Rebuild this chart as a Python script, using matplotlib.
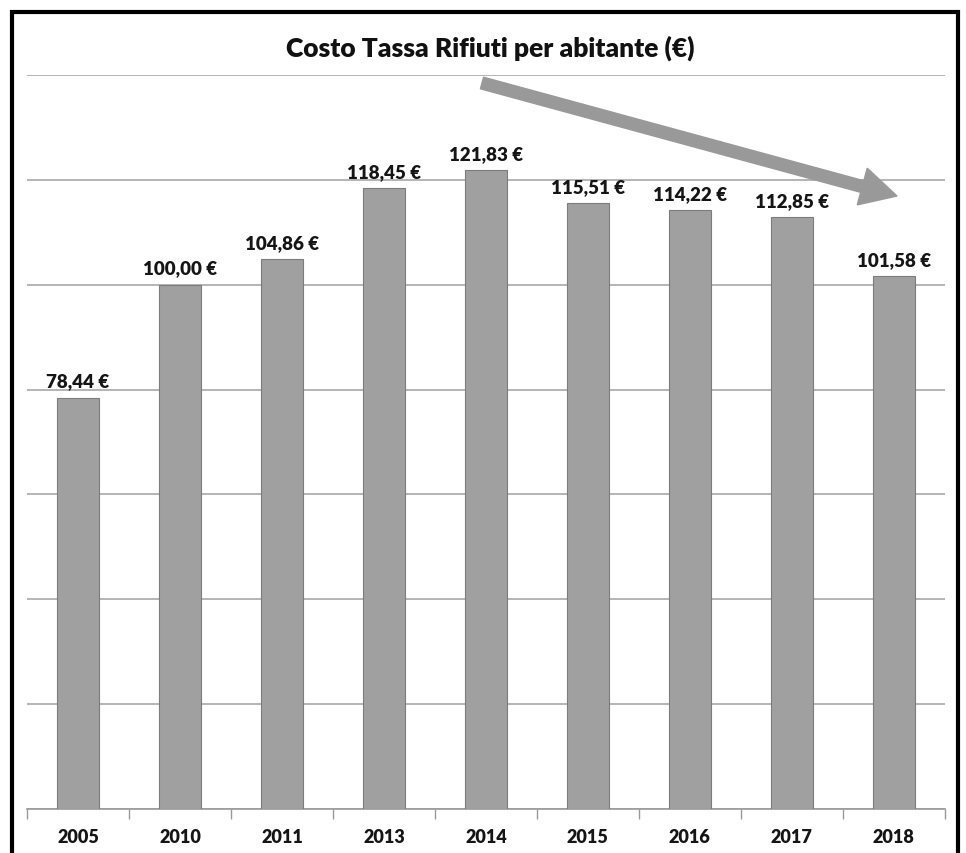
import matplotlib.pyplot as plt
from matplotlib.patches import FancyArrow, Rectangle

# data
anni = ['2005', '2010', '2011', '2013', '2014', '2015', '2016', '2017', '2018']
costo = [78.44, 100.00, 104.86, 118.45, 121.83, 115.51, 114.22, 112.85, 101.58]
etichette = ['78,44 €', '100,00 €', '104,86 €', '118,45 €', '121,83 €',
             '115,51 €', '114,22 €', '112,85 €', '101,58 €']

plt.rcParams['font.family'] = ['Lato', 'DejaVu Sans']

fig = plt.figure(figsize=(9.66, 8.54), dpi=100)
ax = fig.add_axes([0.028, 0.0515, 0.95, 0.8595])

x = range(len(anni))
ax.bar(x, costo, width=0.41, color='#a0a0a0', edgecolor='#7c7c7c', linewidth=0.8, zorder=3)

for i, (v, t) in enumerate(zip(costo, etichette)):
    ax.annotate(t, (i, v), xytext=(0, 6), textcoords='offset points',
                ha='center', va='bottom', fontsize=13.5, fontweight='heavy', color='#151515')

ax.set_xlim(-0.5, len(anni) - 0.5)
ax.set_ylim(0, 140)
ax.set_yticks(range(0, 141, 20))
ax.yaxis.grid(True, color='#a8a8a8', linewidth=1.2)
ax.set_axisbelow(True)
ax.tick_params(axis='y', left=False, labelleft=False)

ax.set_xticks(list(x))
ax.set_xticklabels(anni, fontsize=13, fontweight='heavy', color='#151515')
ax.tick_params(axis='x', which='major', length=0, pad=14)
ax.set_xticks([i - 0.5 for i in range(len(anni) + 1)], minor=True)
ax.tick_params(axis='x', which='minor', length=7, color='#9a9a9a', width=1)

for s in ['top', 'left', 'right']:
    ax.spines[s].set_visible(False)
ax.spines['bottom'].set_color('#9a9a9a')
ax.spines['bottom'].set_linewidth(1.2)

fig.text(0.507, 0.943, 'Costo Tassa Rifiuti per abitante (€)', ha='center', va='center',
         fontsize=19, fontweight='heavy', color='#111111')

# freccia di tendenza
arrow = FancyArrow(4.82, 7.70, 4.15, -1.13, width=0.12, head_width=0.38, head_length=0.36,
                   length_includes_head=True, color='#999999', transform=fig.dpi_scale_trans, zorder=5)
fig.add_artist(arrow)

# cornice
fig.add_artist(Rectangle((0.0125, -0.05), 0.979, 1.035, transform=fig.transFigure,
                         fill=False, edgecolor='black', linewidth=3))

fig.savefig('out.png', dpi=100)
